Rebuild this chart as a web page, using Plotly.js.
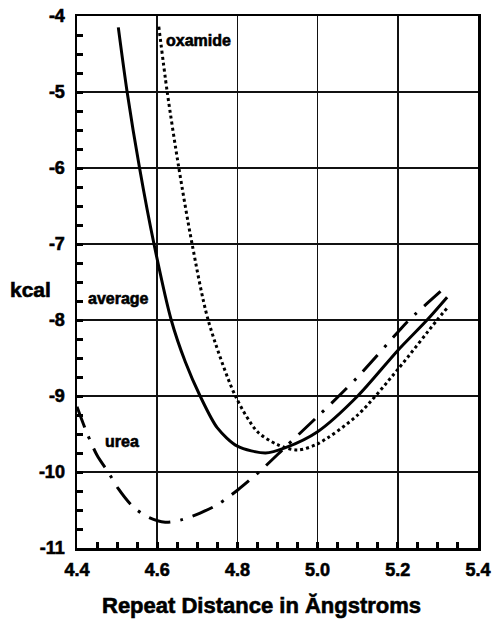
<!DOCTYPE html>
<html>
<head>
<meta charset="utf-8">
<script src="https://cdn.plot.ly/plotly-3.0.1.min.js"></script>
<style>
html,body{margin:0;padding:0;background:#fff;}
#chart{width:493px;height:619px;}
#chart text{stroke:black;stroke-width:0.6px;}
</style>
</head>
<body>
<div id="chart"></div>
<script>
// Average (solid)
const averageX = [4.503, 4.525, 4.556, 4.592, 4.635, 4.67, 4.707, 4.75, 4.8, 4.87, 4.92, 5.0, 5.1, 5.2, 5.273, 5.323];
const averageY = [-4.15, -5.0, -6.0, -7.0, -8.0, -8.55, -9.0, -9.42, -9.66, -9.75, -9.68, -9.47, -9.0, -8.4, -8.0, -7.7];
// Oxamide (dotted)
const oxamideX = [4.604, 4.625, 4.654, 4.687, 4.727, 4.795, 4.85, 4.9, 4.95, 5.0, 5.1, 5.2, 5.298, 5.325];
const oxamideY = [-4.14, -5.0, -6.0, -7.0, -8.0, -9.0, -9.47, -9.64, -9.71, -9.63, -9.25, -8.65, -8.0, -7.83];
// Urea (dash-dot)
const ureaX = [4.4, 4.425, 4.45, 4.48, 4.503, 4.54, 4.58, 4.62, 4.66, 4.707, 4.75, 4.8, 4.856, 4.92, 5.0, 5.053, 5.1, 5.2, 5.228, 5.318];
const ureaY = [-9.14, -9.49, -9.78, -10.02, -10.22, -10.46, -10.6, -10.66, -10.63, -10.54, -10.43, -10.24, -9.99, -9.67, -9.27, -9.0, -8.75, -8.16, -8.0, -7.57];

const xTickVals = [4.4, 4.6, 4.8, 5.0, 5.2, 5.4];
const xTickText = ["4.4", "4.6", "4.8", "5.0", "5.2", "5.4"];
const yTickVals = [-4, -5, -6, -7, -8, -9, -10, -11];
const yTickText = ["-4", "-5", "-6", "-7", "-8", "-9", "-10", "-11"];

const labels = [
  {text: "oxamide", x: 4.617, y: -4.32},
  {text: "average", x: 4.423, y: -7.72},
  {text: "urea", x: 4.465, y: -9.6}
];

const FONT = "Liberation Sans, Arial, Helvetica, sans-serif";
const bold = s => "<b>" + s + "</b>";

const traces = [
  {x: averageX, y: averageY, mode: "lines", line: {color: "black", width: 3, shape: "spline", smoothing: 0.8}},
  {x: oxamideX, y: oxamideY, mode: "lines", line: {color: "black", width: 3, dash: "3px,3px", shape: "spline", smoothing: 0.8}},
  {x: ureaX, y: ureaY, mode: "lines", line: {color: "black", width: 3, dash: "22px,10px,3px,10px", shape: "spline", smoothing: 0.8}}
];

const annotations = labels.map(l => ({
  text: bold(l.text), x: l.x, y: l.y, xref: "x", yref: "y", xanchor: "left", yanchor: "middle",
  showarrow: false, font: {family: FONT, size: 16, color: "black"}
}));
annotations.push({
  text: bold("kcal"), xref: "paper", yref: "y", x: -0.115, y: -7.6, xanchor: "center", yanchor: "middle",
  showarrow: false, font: {family: FONT, size: 21, color: "black"}
});
annotations.push({
  text: bold("Repeat Distance in Ăngstroms"), xref: "paper", yref: "paper", x: 0.46, y: -0.108,
  xanchor: "center", yanchor: "middle", showarrow: false,
  font: {family: FONT, size: 22, color: "black"}
});

const layout = {
  width: 493, height: 619,
  margin: {l: 77, r: 15, t: 16, b: 71},
  paper_bgcolor: "white", plot_bgcolor: "white",
  showlegend: false,
  font: {family: FONT, color: "black"},
  xaxis: {
    range: [4.4, 5.4], tickmode: "array", tickvals: xTickVals, ticktext: xTickText.map(bold),
    showgrid: true, gridcolor: "#111", gridwidth: 1.5,
    showline: true, linecolor: "black", linewidth: 2.5, mirror: true,
    ticks: "inside", ticklen: 6, tickwidth: 3, tickcolor: "black",
    minor: {dtick: 0.05, ticks: "inside", ticklen: 6, tickwidth: 3, tickcolor: "black", showgrid: false},
    tickfont: {family: FONT, size: 18, color: "black"},
    ticklabelstandoff: 4,
    zeroline: false, fixedrange: true
  },
  yaxis: {
    range: [-11, -4], tickmode: "array", tickvals: yTickVals, ticktext: yTickText.map(bold),
    showgrid: true, gridcolor: "#111", gridwidth: 1.5,
    showline: true, linecolor: "black", linewidth: 2.5, mirror: true,
    ticks: "inside", ticklen: 6, tickwidth: 3, tickcolor: "black",
    minor: {dtick: 0.25, ticks: "inside", ticklen: 6, tickwidth: 3, tickcolor: "black", showgrid: false},
    tickfont: {family: FONT, size: 18, color: "black"},
    ticklabelstandoff: 6,
    zeroline: false, fixedrange: true
  },
  annotations: annotations
};

Plotly.newPlot("chart", traces, layout, {staticPlot: true, displayModeBar: false});
</script>
</body>
</html>
